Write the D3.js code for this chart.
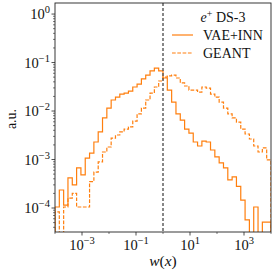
<!DOCTYPE html>
<html>
<head>
<meta charset="utf-8">
<script src="https://cdn.jsdelivr.net/npm/d3@7"></script>
<style>
  body { margin: 0; background: #fff; }
  text { font-family: "Liberation Serif", "DejaVu Serif", serif; fill: #111; }
</style>
</head>
<body>
<svg id="chart" width="274" height="274"></svg>
<script>
// histogram bins: 50 log-spaced bins from 1e-4 to 1e4
const binRange = [-4, 4];
const nBins = 50;

// VAE+INN (solid), read per bin
const vaeInn = [
  1.05e-4, 2.35e-4, 1.15e-4, 4.2e-4, 3.0e-4, 6.7e-4, 4.8e-4, 1.07e-3, 1.36e-3, 2.3e-3,
  3.7e-3, 7.2e-3, 1.15e-2, 1.69e-2, 1.94e-2, 2.24e-2, 2.35e-2, 2.58e-2, 3.13e-2, 3.6e-2,
  4.6e-2, 5.5e-2, 6.7e-2, 7.7e-2, 6.7e-2, 4.8e-2, 2.71e-2, 1.53e-2, 8.7e-3, 6.5e-3,
  4.25e-3, 3.5e-3, 2.3e-3, 1.9e-3, 2.4e-3, 2.3e-3, 1.57e-3, 1.13e-3, 8.5e-4, 6.7e-4,
  3.8e-4, 4.4e-4, 2.8e-4, 1.46e-4, 5.7e-5, 0, 1.05e-4, 0, 5.1e-5, 5.1e-5
];

// GEANT (dashed)
const geant = [
  8.3e-5, 0, 1.05e-4, 1.6e-4, 2.0e-4, 1.05e-4, 1.05e-4, 1.05e-4, 3.5e-4, 5.5e-4,
  8.9e-4, 1.43e-3, 1.81e-3, 2.77e-3, 3.2e-3, 3.7e-3, 4.25e-3, 4.7e-3, 6.2e-3, 8.7e-3,
  1.15e-2, 1.69e-2, 2.35e-2, 3.13e-2, 4.16e-2, 5.0e-2, 5.3e-2, 5.5e-2, 4.8e-2, 3.8e-2,
  3.28e-2, 2.71e-2, 2.71e-2, 2.46e-2, 3.13e-2, 2.98e-2, 2.24e-2, 1.94e-2, 1.53e-2, 1.15e-2,
  8.7e-3, 7.2e-3, 5.9e-3, 4.25e-3, 3.36e-3, 2.65e-3, 1.9e-3, 1.43e-3, 1.73e-3, 9.8e-4
];

const xTicks = [1e-3, 1e-1, 1e1, 1e3];
const xTickExp = ["−3", "−1", "1", "3"];
const yTicks = [1e0, 1e-1, 1e-2, 1e-3, 1e-4];
const yTickExp = ["0", "−1", "−2", "−3", "−4"];
const legendTitle = "DS-3";
const seriesNames = ["VAE+INN", "GEANT"];
const refLine = 1;

const color = "#ff7f0e";

const margin = { top: 3, right: 3, bottom: 42, left: 55 };
const width = 274 - margin.left - margin.right;
const height = 274 - margin.top - margin.bottom;

const svg = d3.select("#chart");
const g = svg.append("g")
  .attr("transform", `translate(${margin.left}, ${margin.top})`);

const x = d3.scaleLog().domain([1e-4, 1e4]).range([0, width]);
const y = d3.scaleLog().domain([3.2e-5, 1.69]).range([height, 0]);

const edges = d3.range(nBins + 1).map(i =>
  Math.pow(10, binRange[0] + (binRange[1] - binRange[0]) * i / nBins));

g.append("clipPath").attr("id", "clip")
  .append("rect").attr("width", width).attr("height", height);

function stepPoints(vals) {
  const yy = v => (v > 0 ? y(v) : height + 20);
  const pts = [[x(edges[0]), height + 20]];
  vals.forEach((v, i) => {
    pts.push([x(edges[i]), yy(v)]);
    pts.push([x(edges[i + 1]), yy(v)]);
  });
  pts.push([x(edges[nBins]), height + 20]);
  return pts;
}

const line = d3.line();

g.append("path")
  .attr("clip-path", "url(#clip)")
  .attr("d", line(stepPoints(geant)))
  .attr("fill", "none")
  .attr("stroke", color)
  .attr("stroke-width", 1.2)
  .attr("stroke-dasharray", "3.7,1.6");

g.append("path")
  .attr("clip-path", "url(#clip)")
  .attr("d", line(stepPoints(vaeInn)))
  .attr("fill", "none")
  .attr("stroke", color)
  .attr("stroke-width", 1.2);

// vertical reference at w = 1
g.append("line")
  .attr("x1", x(refLine)).attr("x2", x(refLine))
  .attr("y1", 0).attr("y2", height)
  .attr("stroke", "#555")
  .attr("stroke-width", 1.4)
  .attr("stroke-dasharray", "3,2");

// frame
g.append("rect")
  .attr("width", width).attr("height", height)
  .attr("fill", "none")
  .attr("stroke", "#222")
  .attr("stroke-width", 0.9);

// y ticks
const yMinor = [];
for (let e = -5; e <= 0; e++) {
  for (let m = 2; m <= 9; m++) {
    const v = m * Math.pow(10, e);
    if (v >= y.domain()[0] && v <= y.domain()[1]) yMinor.push(v);
  }
}
g.selectAll(".yminor").data(yMinor).join("line")
  .attr("x1", -2).attr("x2", 0)
  .attr("y1", d => y(d)).attr("y2", d => y(d))
  .attr("stroke", "#222").attr("stroke-width", 0.6);

g.selectAll(".ymajor").data(yTicks).join("line")
  .attr("x1", -3.5).attr("x2", 0)
  .attr("y1", d => y(d)).attr("y2", d => y(d))
  .attr("stroke", "#222").attr("stroke-width", 0.8);

const yLab = g.selectAll(".ylab").data(yTicks).join("text")
  .attr("x", -5)
  .attr("y", d => y(d) + 5)
  .attr("text-anchor", "end")
  .attr("font-size", 14.5);
yLab.append("tspan").text("10");
yLab.append("tspan")
  .attr("dy", -6)
  .attr("font-size", 10.5)
  .text((d, i) => yTickExp[i]);

// x ticks
const xMinor = [1e-4, 1e-2, 1e0, 1e2, 1e4];
g.selectAll(".xminor").data(xMinor).join("line")
  .attr("x1", d => x(d)).attr("x2", d => x(d))
  .attr("y1", height).attr("y2", height + 2)
  .attr("stroke", "#222").attr("stroke-width", 0.6);

g.selectAll(".xmajor").data(xTicks).join("line")
  .attr("x1", d => x(d)).attr("x2", d => x(d))
  .attr("y1", height).attr("y2", height + 3.5)
  .attr("stroke", "#222").attr("stroke-width", 0.8);

const xLab = g.selectAll(".xlab").data(xTicks).join("text")
  .attr("x", d => x(d))
  .attr("y", height + 18)
  .attr("text-anchor", "middle")
  .attr("font-size", 14.5);
xLab.append("tspan").text("10");
xLab.append("tspan")
  .attr("dy", -6)
  .attr("font-size", 10.5)
  .text((d, i) => xTickExp[i]);

// axis labels
const xl = svg.append("text")
  .attr("x", 163).attr("y", 266)
  .attr("text-anchor", "middle")
  .attr("font-size", 15.5);
xl.append("tspan").attr("font-style", "italic").text("w");
xl.append("tspan").text("(");
xl.append("tspan").attr("font-style", "italic").text("x");
xl.append("tspan").text(")");

svg.append("text")
  .attr("transform", "translate(16, 119) rotate(-90)")
  .attr("text-anchor", "middle")
  .attr("font-size", 14)
  .text("a.u.");

// legend
const lg = svg.append("g");
const title = lg.append("text")
  .attr("x", 223).attr("y", 22)
  .attr("text-anchor", "middle")
  .attr("font-size", 14);
title.append("tspan").attr("font-style", "italic").text("e");
title.append("tspan").attr("dy", -5).attr("font-size", 10).text("+");
title.append("tspan").attr("dy", 5).text(" " + legendTitle);

seriesNames.forEach((name, i) => {
  const yy = 35 + i * 18;
  lg.append("line")
    .attr("x1", 172).attr("x2", 193)
    .attr("y1", yy).attr("y2", yy)
    .attr("stroke", color)
    .attr("stroke-width", 1.2)
    .attr("stroke-dasharray", i === 1 ? "3.7,1.6" : null);
  lg.append("text")
    .attr("x", 203).attr("y", yy + 5)
    .attr("font-size", 14)
    .text(name);
});
</script>
</body>
</html>
